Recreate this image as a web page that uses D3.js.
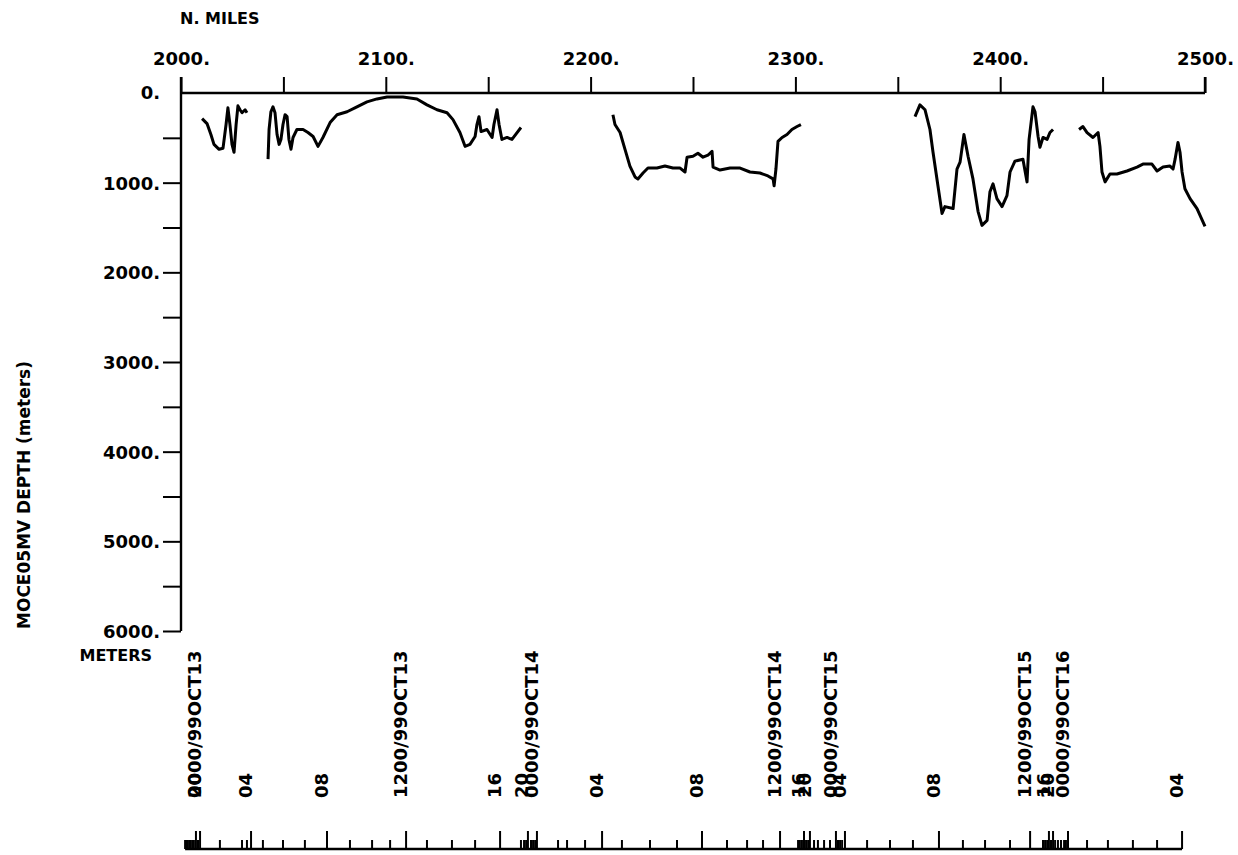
<!DOCTYPE html>
<html>
<head>
<meta charset="utf-8">
<script src="https://cdnjs.cloudflare.com/ajax/libs/d3/7.8.5/d3.min.js"></script>
<style>
  body { margin: 0; background: #fff; }
  text { font-family: "DejaVu Sans", sans-serif; font-weight: bold; fill: #000; }
</style>
</head>
<body>
<script>
// depth track, [N. miles, depth m], one array per continuous piece
var seg1 = [[2010.3,286],[2012.7,341],[2014.6,463],[2016.1,573],[2018.6,628],[2020.5,617],[2022.0,352],[2022.9,165],[2023.9,352],[2024.9,573],[2025.9,661],[2026.9,352],[2027.8,143],[2028.8,187],[2029.8,220],[2031.3,187],[2032.2,220]];
var seg2 = [[2042.5,738],[2043.0,407],[2043.9,209],[2044.9,154],[2045.9,220],[2046.9,463],[2047.9,573],[2048.8,518],[2049.8,352],[2050.8,242],[2051.8,264],[2052.7,518],[2053.7,628],[2054.7,496],[2056.6,407],[2059.6,407],[2062.0,441],[2064.5,485],[2066.9,595],[2069.3,496],[2072.8,330],[2076.2,242],[2081.1,209],[2085.9,154],[2090.8,99],[2095.7,66],[2100.6,44],[2108.4,44],[2115.2,66],[2120.1,132],[2125.0,187],[2129.9,220],[2132.8,297],[2136.2,441],[2138.7,595],[2141.1,573],[2143.6,485],[2144.5,352],[2145.5,264],[2146.5,430],[2149.4,407],[2151.9,496],[2152.8,352],[2154.3,187],[2155.3,352],[2156.7,518],[2159.2,496],[2161.6,518],[2164.1,441],[2166.0,385]];
var seg3 = [[2210.9,242],[2211.9,352],[2214.4,441],[2216.8,628],[2219.2,815],[2221.7,936],[2223.1,958],[2225.6,892],[2228.0,837],[2232.4,837],[2236.3,815],[2240.2,837],[2243.7,837],[2246.1,881],[2247.1,716],[2250.0,705],[2252.4,672],[2254.9,716],[2257.3,694],[2259.3,650],[2259.8,826],[2263.2,859],[2268.1,837],[2273.0,837],[2277.8,881],[2282.7,892],[2286.6,925],[2289.1,958],[2289.6,1035],[2290.5,848],[2291.5,540],[2293.5,496],[2295.9,463],[2298.3,407],[2300.8,374],[2302.7,352]];
var seg4 = [[2358.4,264],[2360.8,132],[2363.3,187],[2365.7,407],[2367.2,661],[2369.6,1035],[2371.6,1344],[2373.0,1267],[2377.0,1289],[2378.9,848],[2380.4,771],[2382.3,463],[2384.3,705],[2386.7,958],[2389.2,1322],[2391.1,1476],[2393.6,1421],[2395.0,1101],[2396.5,1013],[2398.4,1178],[2400.9,1267],[2403.3,1145],[2404.8,881],[2407.2,760],[2411.1,738],[2413.1,991],[2414.1,518],[2416.0,154],[2417.0,209],[2418.5,485],[2419.4,606],[2420.9,496],[2422.9,518],[2424.3,441],[2425.8,407]];
var seg5 = [[2438.5,407],[2440.4,374],[2442.4,441],[2445.3,496],[2447.8,441],[2448.7,595],[2449.7,881],[2451.2,991],[2453.6,903],[2457.0,903],[2461.9,870],[2466.8,826],[2469.7,793],[2474.1,793],[2476.6,870],[2479.5,826],[2482.9,815],[2484.4,848],[2485.4,738],[2486.8,551],[2487.8,661],[2488.8,881],[2490.2,1068],[2492.7,1178],[2496.1,1289],[2500.0,1487]];
var segments = [seg1, seg2, seg3, seg4, seg5];

var milesTicks = d3.range(2000, 2501, 50);
var depthTicks = d3.range(500, 6001, 500);

// hourly time marks along the track (N. miles)
var hourTicks = [2002.0,2002.7,2003.4,2004.4,2005.4,2006.3,2007.3,2008.3,2009.3,2019.0,2029.8,2032.2,2034.2,2040.0,2049.8,2060.5,2071.3,2082.5,2093.3,2102.1,2109.9,2120.1,2132.3,2143.6,2155.8,2166.0,2167.5,2168.5,2169.4,2170.9,2171.9,2172.9,2173.8,2184.1,2188.5,2197.3,2205.6,2215.3,2229.0,2242.2,2254.4,2266.6,2276.4,2284.2,2292.5,2301.3,2302.2,2303.2,2304.2,2305.2,2306.2,2307.1,2309.1,2311.0,2314.0,2316.9,2319.8,2320.8,2321.8,2322.8,2324.2,2335.0,2346.2,2357.4,2370.1,2381.8,2392.6,2404.8,2414.6,2420.9,2421.9,2422.9,2423.8,2424.8,2425.8,2426.8,2428.2,2429.7,2431.2,2432.1,2433.1,2442.4,2452.6,2464.8,2476.6,2488.8];
var majorTicks = [2007.3,2009.3,2034.2,2071.3,2109.9,2155.8,2169.4,2173.8,2205.6,2254.4,2292.5,2304.2,2307.1,2319.8,2324.2,2370.1,2414.6,2423.8,2425.8,2433.1,2488.8];
var timeLabels = ["20","0000/99OCT13","04","08","1200/99OCT13","16","20","0000/99OCT14","04","08","1200/99OCT14","16","20","0000/99OCT15","04","08","1200/99OCT15","16","20","0000/99OCT16","04"];
var timeLabelMiles = [2009.3,2009.3,2034.2,2071.3,2109.9,2155.8,2169.0,2173.8,2205.6,2254.4,2292.5,2304.2,2307.1,2319.8,2324.2,2370.1,2414.6,2423.8,2425.8,2433.1,2488.8];

var W = 1238, H = 855;
var svg = d3.select("body").append("svg").attr("width", W).attr("height", H);

var x = d3.scaleLinear().domain([2000, 2500]).range([181, 1205]);
var y = d3.scaleLinear().domain([0, 6000]).range([93, 631]);

// top axis (distance)
var topAxis = svg.append("g").attr("transform", "translate(0," + y(0) + ")")
  .call(d3.axisTop(x).tickValues(milesTicks).tickSize(16).tickSizeOuter(0)
    .tickFormat(function(d) { return d % 100 === 0 ? d + "." : ""; }));
topAxis.attr("font-size", null).attr("font-family", null);
topAxis.select(".domain").attr("stroke", "#000").attr("stroke-width", 2.4).attr("d", "M" + x(2000) + ",0H" + x(2500));
topAxis.selectAll(".tick line").attr("stroke", "#000").attr("stroke-width", 2);
topAxis.selectAll(".tick text").attr("y", -28).attr("dy", 0).style("font-size", "18px");

svg.append("text").attr("x", 180).attr("y", 24).style("font-size", "16px").text("N. MILES");

// left axis (depth)
var leftAxis = svg.append("g").attr("transform", "translate(" + x(2000) + ",0)")
  .call(d3.axisLeft(y).tickValues(depthTicks).tickSize(18).tickSizeOuter(0)
    .tickFormat(function(d) { return d % 1000 === 0 ? d + "." : ""; }));
leftAxis.attr("font-size", null).attr("font-family", null);
leftAxis.select(".domain").attr("stroke", "#000").attr("stroke-width", 2.4).attr("d", "M0," + (y(0) - 16) + "V" + y(6000));
leftAxis.selectAll(".tick line").attr("stroke", "#000").attr("stroke-width", 2);
leftAxis.selectAll(".tick text").attr("x", -21).attr("dy", "0.36em").style("font-size", "18px");
leftAxis.append("text").attr("x", -21).attr("y", y(0)).attr("dy", "0.36em")
  .attr("text-anchor", "end").style("font-size", "18px").text("0.");

// right end tick of top axis
svg.append("line").attr("x1", x(2500)).attr("x2", x(2500)).attr("y1", y(0) - 16).attr("y2", y(0))
  .attr("stroke", "#000").attr("stroke-width", 2.4);

svg.append("text").attr("x", 152).attr("y", 661).attr("text-anchor", "end")
  .style("font-size", "16px").text("METERS");

svg.append("text").attr("transform", "translate(30,495) rotate(-90)")
  .attr("text-anchor", "middle").style("font-size", "17px").text("MOCE05MV DEPTH (meters)");

// depth track
var line = d3.line().x(function(d) { return x(d[0]); }).y(function(d) { return y(d[1]); });
svg.append("g").selectAll("path").data(segments).enter().append("path")
  .attr("d", line).attr("fill", "none").attr("stroke", "#000")
  .attr("stroke-width", 3).attr("stroke-linejoin", "round");

// time axis
var baseY = 849;
var tg = svg.append("g");
tg.append("line").attr("x1", x(d3.min(hourTicks))).attr("x2", x(d3.max(hourTicks)))
  .attr("y1", baseY).attr("y2", baseY).attr("stroke", "#000").attr("stroke-width", 2.4);
tg.selectAll("line.hr").data(hourTicks).enter().append("line").attr("class", "hr")
  .attr("x1", function(d) { return x(d); }).attr("x2", function(d) { return x(d); })
  .attr("y1", baseY).attr("y2", function(d) { return majorTicks.indexOf(d) >= 0 ? baseY - 18 : baseY - 9; })
  .attr("stroke", "#000").attr("stroke-width", 2);

tg.selectAll("text").data(timeLabels).enter().append("text")
  .attr("transform", function(d, i) { return "translate(" + (x(timeLabelMiles[i]) + 1) + ",798) rotate(-90)"; })
  .style("font-size", "18px")
  .text(function(d) { return d; });
</script>
</body>
</html>
